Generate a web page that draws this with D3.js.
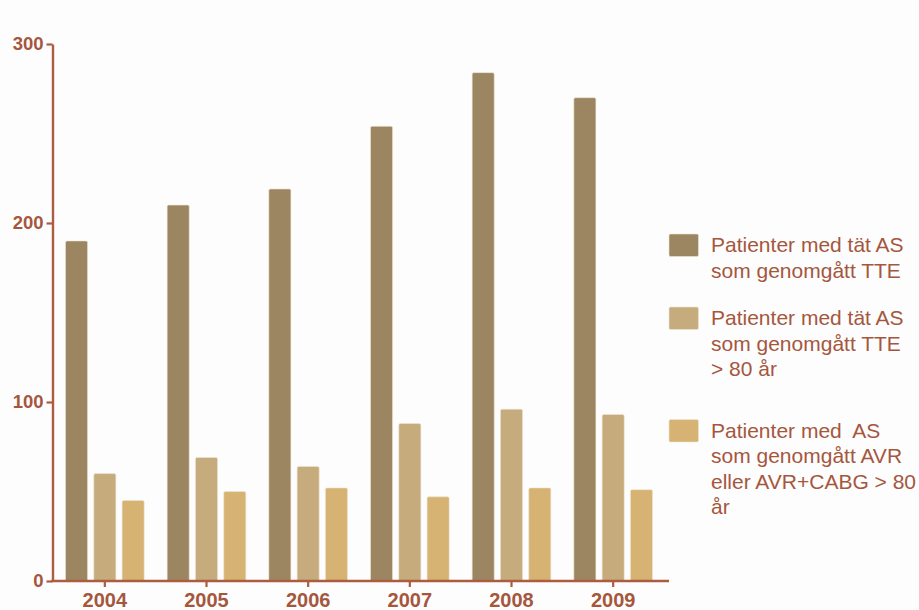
<!DOCTYPE html>
<html>
<head>
<meta charset="utf-8">
<script src="https://cdn.jsdelivr.net/npm/d3@7"></script>
<style>
  html, body { margin: 0; padding: 0; background: #fdfdfd; }
  svg { display: block; }
</style>
</head>
<body>
<svg id="chart" width="919" height="610"></svg>
<script>
const years = ["2004", "2005", "2006", "2007", "2008", "2009"];
const seriesNames = [
  ["Patienter med tät AS", "som genomgått TTE"],
  ["Patienter med tät AS", "som genomgått TTE", "> 80 år"],
  ["Patienter med\u00a0 AS", "som genomgått AVR", "eller AVR+CABG > 80", "år"]
];
const tteAll = [190, 210, 219, 254, 284, 270];
const tteOver80 = [60, 69, 64, 88, 96, 93];
const avrOver80 = [45, 50, 52, 47, 52, 51];
const yTicks = [0, 100, 200, 300];
const colors = ["#9c8662", "#c6ab7c", "#d6b273"];

const seriesValues = [tteAll, tteOver80, avrOver80];
const textColor = "#a5573d";
const axisColor = "#ad5c40";

const svg = d3.select("#chart");

const x0 = d3.scaleBand().domain(years).range([54, 664])
  .paddingInner(0.165).paddingOuter(0.0825);
const x1 = d3.scaleBand().domain(d3.range(3)).range([0, x0.bandwidth()])
  .paddingInner(0.22).paddingOuter(0.11);
const y = d3.scaleLinear().domain([0, 300]).range([581, 44]);

// bars
const groups = svg.append("g").selectAll("g")
  .data(years).join("g")
  .attr("transform", d => `translate(${x0(d)},0)`);

groups.selectAll("rect")
  .data((d, i) => seriesValues.map((s, k) => ({k, v: s[i]})))
  .join("rect")
  .attr("x", d => x1(d.k))
  .attr("width", x1.bandwidth())
  .attr("y", d => y(d.v))
  .attr("height", d => y(0) - y(d.v))
  .attr("rx", 1.5)
  .attr("fill", d => colors[d.k])
  .attr("stroke", "#efe6d4")
  .attr("stroke-width", 0.6);

// y axis
const yAxis = svg.append("g")
  .attr("transform", "translate(52.5,0)")
  .call(d3.axisLeft(y).tickValues(yTicks).tickSize(6).tickSizeOuter(0).tickPadding(3));
yAxis.select(".domain").attr("stroke", axisColor).attr("stroke-width", 2.4);
yAxis.selectAll(".tick line").attr("stroke", axisColor).attr("stroke-width", 2.2);
yAxis.selectAll(".tick text")
  .attr("fill", textColor)
  .attr("font-family", "'Liberation Sans', Arial, sans-serif")
  .attr("font-weight", "bold")
  .attr("font-size", "18.5px");

// x axis
const xAxis = svg.append("g")
  .attr("transform", `translate(0,${y(0)})`)
  .call(d3.axisBottom(x0).tickSize(6).tickSizeOuter(0).tickPadding(6));
xAxis.select(".domain")
  .attr("d", `M51.3,0H${669}`)
  .attr("stroke", axisColor).attr("stroke-width", 2.4);
xAxis.selectAll(".tick line").attr("stroke", axisColor).attr("stroke-width", 2.2);
xAxis.selectAll(".tick text")
  .attr("fill", textColor)
  .attr("font-family", "'Liberation Sans', Arial, sans-serif")
  .attr("font-weight", "bold")
  .attr("font-size", "20px");

// legend
const legendTop = [234, 307, 419.5];
const legend = svg.append("g").selectAll("g")
  .data(seriesNames).join("g")
  .attr("transform", (d, i) => `translate(669,${legendTop[i]})`);
legend.append("rect")
  .attr("width", 29.5).attr("height", 22.5).attr("rx", 1.5)
  .attr("fill", (d, i) => colors[i])
  .attr("stroke", "#efe6d4").attr("stroke-width", 0.6);
legend.append("text")
  .attr("x", 42)
  .attr("fill", textColor)
  .attr("font-family", "'Liberation Sans', Arial, sans-serif")
  .attr("font-size", "21px")
  .selectAll("tspan")
  .data(d => d).join("tspan")
  .attr("x", 42)
  .attr("y", (d, j) => 18.2 + j * 25.5)
  .text(d => d);
</script>
</body>
</html>
